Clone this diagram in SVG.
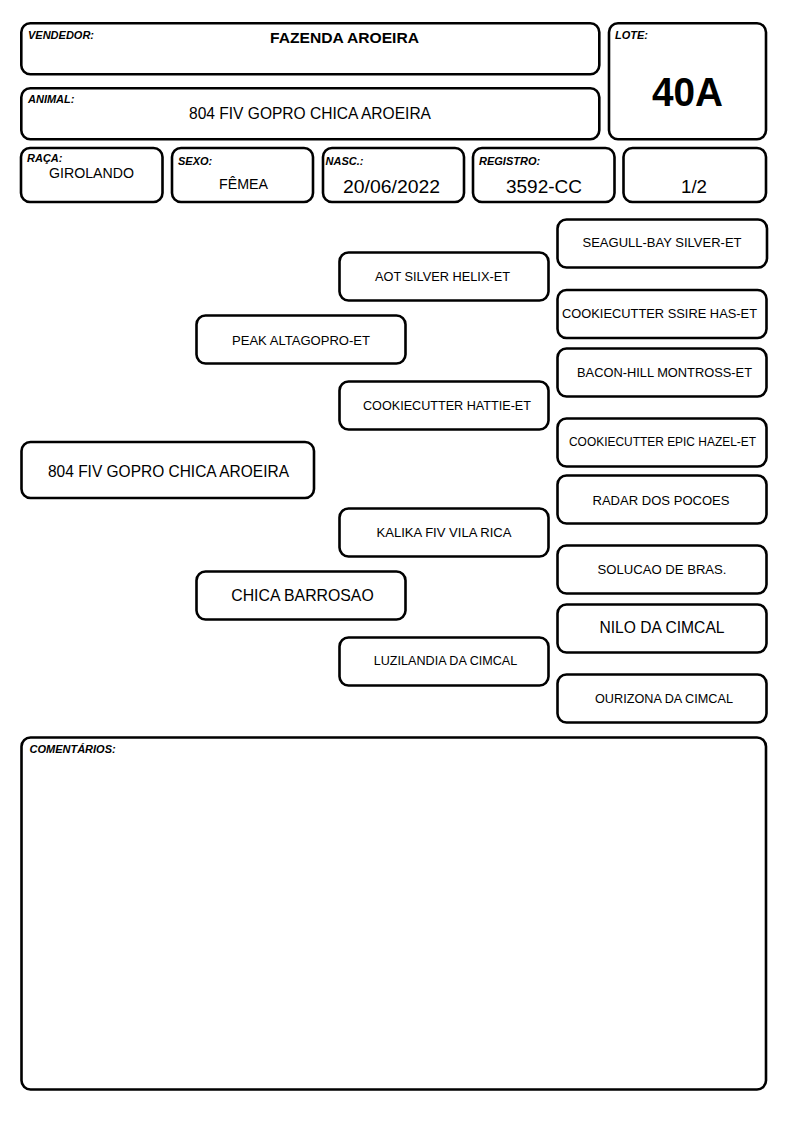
<svg xmlns="http://www.w3.org/2000/svg" width="794" height="1123" viewBox="0 0 794 1123">
<style>
.box{fill:#fff;stroke:#000;stroke-width:2.6}
text{font-family:"Liberation Sans",Arial,Helvetica,sans-serif;fill:#000}
.lbl{font-size:11px;font-weight:bold;font-style:italic}
.c{text-anchor:middle}
.n13{font-size:13px}
.n16{font-size:17px}
</style>
<rect x="0" y="0" width="794" height="1123" fill="#fff"/>
<g id="header">
  <g id="vendedor">
    <rect class="box" x="21.3" y="23.3" width="578" height="51" rx="9"/>
    <text class="lbl" x="28" y="39">VENDEDOR:</text>
    <text class="c" x="344.5" y="43" font-size="15" font-weight="bold" textLength="149" lengthAdjust="spacingAndGlyphs">FAZENDA AROEIRA</text>
  </g>
  <g id="lote">
    <rect class="box" x="609" y="23.3" width="157" height="116" rx="9"/>
    <text class="lbl" x="615" y="38.5">LOTE:</text>
    <text class="c" x="687.5" y="106" font-size="40" font-weight="bold" textLength="71" lengthAdjust="spacingAndGlyphs">40A</text>
  </g>
  <g id="animal">
    <rect class="box" x="21.3" y="88.3" width="578" height="51" rx="9"/>
    <text class="lbl" x="28" y="103.3">ANIMAL:</text>
    <text class="c n16" x="310" y="119.3" textLength="242" lengthAdjust="spacingAndGlyphs">804 FIV GOPRO CHICA AROEIRA</text>
  </g>
  <g id="raca">
    <rect class="box" x="21" y="148" width="141.5" height="54" rx="9"/>
    <text class="lbl" x="27" y="162">RAÇA:</text>
    <text class="c" x="91.5" y="178.3" font-size="15" textLength="85" lengthAdjust="spacingAndGlyphs">GIROLANDO</text>
  </g>
  <g id="sexo">
    <rect class="box" x="172" y="148" width="141" height="54" rx="9"/>
    <text class="lbl" x="178" y="165">SEXO:</text>
    <text class="c" x="243.5" y="189" font-size="15" textLength="49" lengthAdjust="spacingAndGlyphs">FÊMEA</text>
  </g>
  <g id="nasc">
    <rect class="box" x="323" y="148" width="141" height="54" rx="9"/>
    <text class="lbl" x="325.5" y="165">NASC.:</text>
    <text class="c" x="391.5" y="193" font-size="19" textLength="97" lengthAdjust="spacingAndGlyphs">20/06/2022</text>
  </g>
  <g id="registro">
    <rect class="box" x="473" y="148" width="141.5" height="54" rx="9"/>
    <text class="lbl" x="479" y="165">REGISTRO:</text>
    <text class="c" x="544" y="192.5" font-size="19" textLength="76" lengthAdjust="spacingAndGlyphs">3592-CC</text>
  </g>
  <g id="pagina">
    <rect class="box" x="623.5" y="148" width="142.5" height="54" rx="9"/>
    <text class="c" x="694" y="192.5" font-size="19" textLength="26" lengthAdjust="spacingAndGlyphs">1/2</text>
  </g>
</g>
<g id="connectors"></g>
<g id="pedigree">
  <g id="n-animal">
    <rect class="box" x="21.5" y="442" width="292.5" height="56" rx="9"/>
    <text class="c n16" x="168.5" y="476.7" textLength="241" lengthAdjust="spacingAndGlyphs">804 FIV GOPRO CHICA AROEIRA</text>
  </g>
  <g id="n-pai">
    <rect class="box" x="196.5" y="315.5" width="209" height="48" rx="9"/>
    <text class="c n13" x="301" y="344.5" textLength="138" lengthAdjust="spacingAndGlyphs">PEAK ALTAGOPRO-ET</text>
  </g>
  <g id="n-mae">
    <rect class="box" x="196.5" y="571.5" width="209" height="48" rx="9"/>
    <text class="c n16" x="302.5" y="601" textLength="142.5" lengthAdjust="spacingAndGlyphs">CHICA BARROSAO</text>
  </g>
  <g id="n-avo1">
    <rect class="box" x="339.5" y="252.5" width="209" height="48" rx="9"/>
    <text class="c n13" x="442.5" y="281" textLength="135" lengthAdjust="spacingAndGlyphs">AOT SILVER HELIX-ET</text>
  </g>
  <g id="n-avo2">
    <rect class="box" x="339.5" y="381.5" width="209" height="48" rx="9"/>
    <text class="c n13" x="447" y="410" textLength="168" lengthAdjust="spacingAndGlyphs">COOKIECUTTER HATTIE-ET</text>
  </g>
  <g id="n-avo3">
    <rect class="box" x="339.5" y="508.5" width="209" height="48" rx="9"/>
    <text class="c n13" x="444" y="537" textLength="135" lengthAdjust="spacingAndGlyphs">KALIKA FIV VILA RICA</text>
  </g>
  <g id="n-avo4">
    <rect class="box" x="339.5" y="637.5" width="209" height="48" rx="9"/>
    <text class="c n13" x="445.5" y="665" textLength="143.5" lengthAdjust="spacingAndGlyphs">LUZILANDIA DA CIMCAL</text>
  </g>
  <g id="n-bis1">
    <rect class="box" x="557.5" y="219.5" width="209.5" height="48" rx="9"/>
    <text class="c n13" x="662" y="247" textLength="159" lengthAdjust="spacingAndGlyphs">SEAGULL-BAY SILVER-ET</text>
  </g>
  <g id="n-bis2">
    <rect class="box" x="557.5" y="290" width="209" height="48" rx="9"/>
    <text class="c n13" x="659.5" y="318" textLength="195" lengthAdjust="spacingAndGlyphs">COOKIECUTTER SSIRE HAS-ET</text>
  </g>
  <g id="n-bis3">
    <rect class="box" x="557.5" y="348.5" width="209" height="48" rx="9"/>
    <text class="c n13" x="664.5" y="376.5" textLength="175" lengthAdjust="spacingAndGlyphs">BACON-HILL MONTROSS-ET</text>
  </g>
  <g id="n-bis4">
    <rect class="box" x="557.5" y="418.5" width="209" height="48" rx="9"/>
    <text class="c" x="662.5" y="445.5" font-size="12.5" textLength="187" lengthAdjust="spacingAndGlyphs">COOKIECUTTER EPIC HAZEL-ET</text>
  </g>
  <g id="n-bis5">
    <rect class="box" x="557.5" y="475.5" width="209" height="48" rx="9"/>
    <text class="c n13" x="661" y="505" textLength="137" lengthAdjust="spacingAndGlyphs">RADAR DOS POCOES</text>
  </g>
  <g id="n-bis6">
    <rect class="box" x="557.5" y="545.5" width="209" height="48" rx="9"/>
    <text class="c n13" x="662" y="573.5" textLength="129" lengthAdjust="spacingAndGlyphs">SOLUCAO DE BRAS.</text>
  </g>
  <g id="n-bis7">
    <rect class="box" x="557.5" y="604.5" width="209" height="48" rx="9"/>
    <text class="c n16" x="662" y="633.3" textLength="125" lengthAdjust="spacingAndGlyphs">NILO DA CIMCAL</text>
  </g>
  <g id="n-bis8">
    <rect class="box" x="557.5" y="674.5" width="209" height="48" rx="9"/>
    <text class="c n13" x="664" y="703" textLength="138" lengthAdjust="spacingAndGlyphs">OURIZONA DA CIMCAL</text>
  </g>
</g>
<g id="comentarios">
  <rect class="box" x="21.5" y="737.5" width="744.5" height="352" rx="9"/>
  <text class="lbl" x="29.5" y="753">COMENTÁRIOS:</text>
</g>
</svg>
